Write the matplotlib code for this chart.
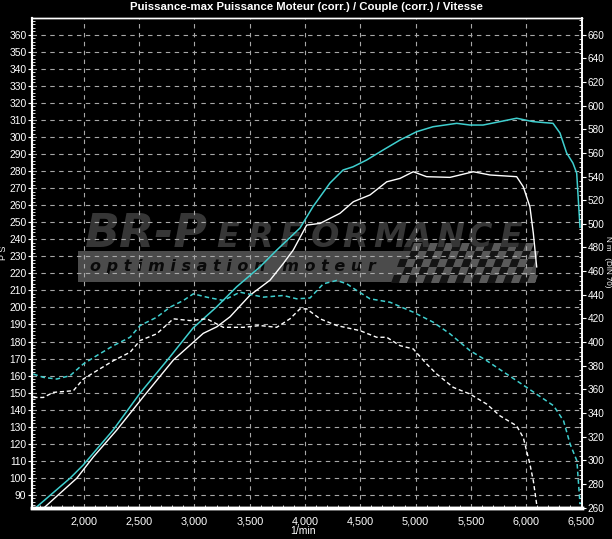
import numpy as np
import matplotlib
matplotlib.use('Agg')
import matplotlib.pyplot as plt
from matplotlib.ticker import MultipleLocator, FuncFormatter
from matplotlib.patches import Rectangle, Polygon

# power curves (PS)
rpm_power_a = [1574, 1875, 1995, 2264, 2508, 2779, 2987, 3202, 3382, 3593, 3744, 3955, 4072, 4226,
               4344, 4434, 4558, 4705, 4859, 5010, 5157, 5372, 5492, 5610, 5763, 5914, 6062, 6243,
               6306, 6366, 6423, 6457, 6487]
power_a = [83, 99.8, 107.6, 128, 149.7, 171, 187.9, 200.4, 212.1, 223.8, 233.6, 246.6, 259.1, 273,
           280.6, 282.5, 286.5, 292.3, 298.2, 303.1, 306, 308, 307, 307, 309, 311, 309, 308,
           302.3, 290.6, 284.7, 278.8, 247]

rpm_power_b = [1649, 1936, 2086, 2297, 2538, 2809, 3080, 3202, 3322, 3503, 3684, 3804, 3894, 4015,
               4136, 4316, 4437, 4588, 4739, 4859, 4979, 5100, 5311, 5522, 5673, 5914, 5974, 6034,
               6065, 6095]
power_b = [83, 99.8, 112.3, 128, 147.6, 169.1, 184.8, 188.6, 194.5, 207.2, 216, 225.8, 233.7, 248.3,
           249.3, 255.2, 262, 266, 273.7, 275.7, 279.6, 276.7, 276.3, 279.6, 277.7, 276.7, 270.8, 259,
           243.4, 223.8]

# torque curves (Nm)
rpm_torque_a = [1543, 1634, 1755, 1875, 1995, 2117, 2267, 2418, 2508, 2659, 2779, 2900, 2990, 3111,
                3261, 3412, 3623, 3804, 3925, 4045, 4166, 4287, 4378, 4468, 4588, 4769, 4979, 5160,
                5311, 5492, 5643, 5824, 6005, 6248, 6338, 6398, 6459, 6487]
torque_a = [373, 370.2, 368.8, 371.6, 381.5, 388.6, 397, 404.1, 414, 421, 429.5, 435.2, 440.8, 438,
            435.2, 442.2, 438, 439.4, 436.6, 437.3, 449.3, 452.1, 449.3, 443.6, 436.6, 433.7, 425.3, 416.8,
            407, 392.8, 384.3, 373, 361.7, 346.2, 333.5, 313.7, 299.6, 263]

rpm_torque_b = [1543, 1634, 1724, 1905, 1995, 2117, 2267, 2418, 2508, 2659, 2809, 2960, 3111, 3261,
                3442, 3593, 3744, 3864, 3955, 4015, 4136, 4287, 4497, 4648, 4739, 4859, 4979, 5100,
                5191, 5341, 5492, 5643, 5763, 5914, 5974, 6034, 6065, 6095]
torque_b = [353.2, 353.2, 357.5, 358.9, 368.8, 375.8, 384.3, 391.4, 401.3, 407, 419.7, 418.2, 419.7, 412.5,
            412.5, 414, 412.5, 419.7, 428.1, 428.1, 419.7, 414, 409.7, 404.1, 404.1, 397, 394.2, 381.5,
            373, 361.7, 356.1, 347.6, 337.7, 329.2, 319.3, 296.8, 282.6, 262.9]

x_ticks = [2000, 2500, 3000, 3500, 4000, 4500, 5000, 5500, 6000, 6500]
ps_ticks = list(range(90, 361, 10))
nm_ticks = list(range(260, 661, 20))

title = 'Puissance-max Puissance Moteur (corr.) / Couple (corr.) / Vitesse'

font = ['Liberation Sans Narrow', 'Liberation Sans', 'DejaVu Sans']
plt.rcParams['font.family'] = font

CYAN = '#3fcfcf'
W, H = 612, 539
fig = plt.figure(figsize=(W / 100, H / 100), dpi=100, facecolor='black')

# axes box in pixels: x 32..582, y 18..507.7
L, R, T, B = 32, 582, 18, 507.7
ax = fig.add_axes([L / W, 1 - B / H, (R - L) / W, (B - T) / H])
ax.set_facecolor('black')
ax2 = ax.twinx()

ax.set_xlim(1531, 6505)
ax.set_ylim(82.5, 369.8)
ax2.set_ylim(260, 674)

def px(x, y):
    # pixel position -> axes fraction (for the logo only)
    return (x - L) / (R - L), (B - y) / (B - T)

# ---- watermark logo ----
x0, y0 = px(78, 282)
x1, y1 = px(536, 251)
ax.add_patch(Rectangle((x0, y0), x1 - x0, y1 - y0, transform=ax.transAxes,
                       facecolor='#4b4b4b', edgecolor='none', zorder=0))
# checkered flag
cs = 8.0
for r in range(5):
    for c in range(17):
        if (r + c) % 2:
            continue
        bx = 406 + c * cs - r * 3
        by = 243 + r * cs
        if bx + cs > 540:
            continue
        pts = [px(bx, by), px(bx + cs, by), px(bx + cs - 3, by + cs), px(bx - 3, by + cs)]
        ax.add_patch(Polygon(pts, closed=True, transform=ax.transAxes,
                             facecolor='#141414', edgecolor='none', zorder=0.5))
        pts2 = [px(bx + cs, by), px(bx + 2 * cs, by), px(bx + 2 * cs - 3, by + cs), px(bx + cs - 3, by + cs)]
        if bx + 2 * cs <= 540:
            ax.add_patch(Polygon(pts2, closed=True, transform=ax.transAxes,
                                 facecolor='#5a5a5a', edgecolor='none', zorder=0.5))
tx, ty = px(90, 266)
ax.text(tx, ty, 'o p t i m i s a t i o n   m o t e u r', transform=ax.transAxes,
        fontsize=11.5, fontweight='bold', fontstyle='italic', color='#0a0a0a',
        family='DejaVu Sans', va='center', ha='left', zorder=0.6)
tx, ty = px(84, 247)
ax.text(tx, ty, 'BR-P', transform=ax.transAxes, fontsize=33, fontweight='bold',
        fontstyle='italic', color='#363636', family='DejaVu Sans', va='baseline', ha='left', zorder=0.6)
for i, ch in enumerate('ERFORMANCE'):
    tx, ty = px(216 + i * 31.5, 247)
    ax.text(tx, ty, ch, transform=ax.transAxes, fontsize=24, fontweight='bold',
            fontstyle='italic', color='#363636', family='DejaVu Sans', va='baseline',
            ha='left', zorder=0.6)

# ---- grid ----
ax.set_xticks(x_ticks)
ax.set_yticks(ps_ticks)
ax2.set_yticks(nm_ticks)
ax.grid(True, color='#a8a8a8', linestyle=(0, (4, 4)), linewidth=0.8, zorder=1)
ax.set_axisbelow(False)

# ---- curves ----
ax.plot(rpm_power_b, power_b, color='white', lw=1.0, zorder=3)
ax.plot(rpm_power_a, power_a, color=CYAN, lw=1.1, zorder=3)
ax2.plot(rpm_torque_b, torque_b, color='white', lw=1.0, linestyle=(0, (3, 2)), zorder=3)
ax2.plot(rpm_torque_a, torque_a, color=CYAN, lw=1.1, linestyle=(0, (3, 2)), zorder=3)

# ---- axes style ----
ax.xaxis.set_major_formatter(FuncFormatter(lambda v, p: f'{int(v):,}'))
for a in (ax, ax2):
    for s in a.spines.values():
        s.set_color('white')
    a.spines['bottom'].set_linewidth(2.5)
    a.spines['left'].set_linewidth(1.5)
    a.spines['right'].set_linewidth(1.2)
    a.spines['top'].set_linewidth(1.0)
    a.tick_params(colors='white', labelsize=7.8, length=4, width=0.8)
ax.tick_params(axis='y', pad=1, length=3, labelsize=7.4)
ax2.tick_params(axis='y', pad=1, length=3, labelsize=7.2)
ax.tick_params(axis='x', length=0, pad=6)
ax.yaxis.set_minor_locator(MultipleLocator(2))
ax2.yaxis.set_minor_locator(MultipleLocator(4))
ax.xaxis.set_minor_locator(MultipleLocator(100))
ax.tick_params(which='minor', colors='white', length=2, width=0.6, direction='in')
ax2.tick_params(which='minor', colors='white', length=2, width=0.6, direction='in')

fig.text(306 / W, 1 - 7 / H, title, color='white', fontsize=8.2, fontweight='bold',
         ha='center', va='center')
fig.text(4 / W, 1 - 253 / H, 'P S', color='white', fontsize=6.5, rotation=90,
         ha='center', va='center')
fig.text(607.5 / W, 1 - 262 / H, 'N m   (DIN 70)', color='white', fontsize=5.8, rotation=-90,
         ha='center', va='center')
fig.text(303 / W, 1 - 531 / H, '1/min', color='white', fontsize=7.5, ha='center', va='center')

fig.savefig('out.png', dpi=100, facecolor='black')
